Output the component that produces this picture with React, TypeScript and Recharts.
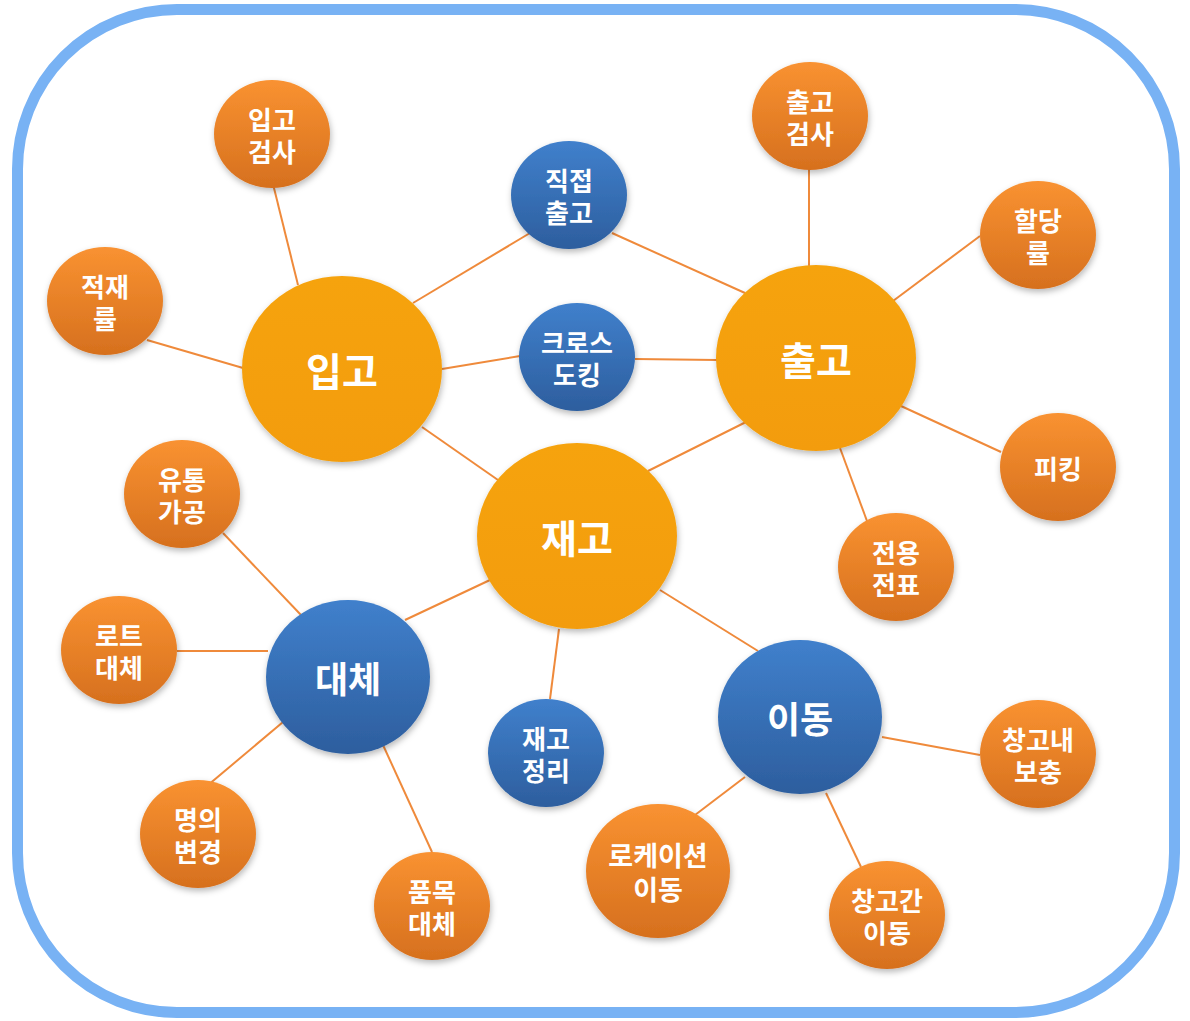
import React from "react";
import { ScatterChart, Scatter, XAxis, YAxis } from "recharts";

const nodeLabels = [
  "입고", "출고", "재고", "대체", "이동",
  "직접\n출고", "크로스\n도킹", "재고\n정리",
  "입고\n검사", "적재\n률", "출고\n검사", "할당\n률", "피킹", "전용\n전표",
  "유통\n가공", "로트\n대체", "명의\n변경", "품목\n대체",
  "로케이션\n이동", "창고간\n이동", "창고내\n보충",
];
const nodeX = [342, 816, 577, 348, 800, 569, 577, 546, 272, 105, 810, 1038, 1058, 896, 182, 119, 198, 432, 658, 887, 1038];
const nodeY = [369, 358, 536, 677, 717, 195, 357, 753, 134, 301, 116, 235, 467, 567, 494, 650, 834, 906, 871, 915, 754];
const nodeTier = ["hub", "hub", "hub", "sub", "sub", "leaf", "leaf", "leaf", "leaf", "leaf", "leaf", "leaf", "leaf", "leaf", "leaf", "leaf", "leaf", "leaf", "wide", "leaf", "leaf"];
const nodeTone = ["gold", "gold", "gold", "blue", "blue", "blue", "blue", "blue", "orange", "orange", "orange", "orange", "orange", "orange", "orange", "orange", "orange", "orange", "orange", "orange", "orange"];

// connector segments (start/end points of each link line, hidden ends sit under the nodes)
const linkX1 = [413, 612, 442, 635, 422, 746, 272, 147, 809, 980, 1001, 867, 490, 559, 660, 223, 177, 201, 383, 882, 695, 826];
const linkY1 = [303, 233, 369, 359, 427, 422, 180, 340, 165, 236, 452, 521, 580, 629, 590, 533, 651, 791, 745, 737, 815, 793];
const linkX2 = [530, 745, 520, 717, 498, 648, 298, 243, 809, 893, 901, 840, 405, 550, 758, 301, 268, 283, 432, 980, 745, 861];
const linkY2 = [233, 293, 356, 360, 480, 471, 285, 368, 266, 301, 406, 448, 620, 699, 651, 615, 651, 722, 852, 755, 777, 867];

const nodes = nodeLabels.map((label, i) => ({
  label, x: nodeX[i], y: nodeY[i], tier: nodeTier[i], tone: nodeTone[i], idx: i,
}));

const links = linkX1.map((x1, i) => [
  { x: x1, y: linkY1[i] },
  { x: linkX2[i], y: linkY2[i] },
]);

const TIER: Record<string, { rx: number; ry: number; font: number; lh: number }> = {
  hub: { rx: 100, ry: 93, font: 39, lh: 40 },
  sub: { rx: 82, ry: 77, font: 36, lh: 38 },
  leaf: { rx: 58, ry: 54, font: 26, lh: 32 },
  wide: { rx: 72, ry: 67, font: 27, lh: 34 },
};

const NodeShape = (props: any) => {
  const { cx, cy, payload } = props;
  if (cx == null || cy == null || !payload) return <g />;
  const t = TIER[payload.tier];
  const lines = String(payload.label).split("\n");
  const gid = `g-${payload.idx}`;
  let top = "#F6A30D", bot = "#F39C08";
  if (payload.tone === "blue") { top = "#4080CC"; bot = "#2D5E9E"; }
  if (payload.tone === "orange") { top = "#F99231"; bot = "#D6701E"; }
  const n = lines.length;
  return (
    <g>
      <defs>
        <linearGradient id={gid} x1="0" y1="0" x2="0" y2="1">
          <stop offset="0" stopColor={top} />
          <stop offset="1" stopColor={bot} />
        </linearGradient>
        <filter id={`sh-${payload.idx}`} x="-30%" y="-30%" width="160%" height="160%">
          <feDropShadow dx="1" dy="3" stdDeviation="3" floodColor="#000" floodOpacity="0.28" />
        </filter>
      </defs>
      <ellipse cx={cx} cy={cy} rx={t.rx} ry={t.ry} fill={`url(#${gid})`} filter={`url(#sh-${payload.idx})`} />
      <text
        x={cx}
        y={cy}
        textAnchor="middle"
        fill="#FFFFFF"
        fontFamily="'Noto Sans CJK KR', 'Noto Sans', sans-serif"
        fontWeight={700}
        fontSize={t.font}
      >
        {lines.map((ln, i) => (
          <tspan key={i} x={cx} y={cy + (i - (n - 1) / 2) * t.lh} dominantBaseline="central">
            {ln}
          </tspan>
        ))}
      </text>
    </g>
  );
};

const NoDot = () => <g />;

export default function App() {
  return (
    <div style={{ position: "absolute", left: 0, top: 0, width: 1190, height: 1021, background: "#fff" }}>
      <div
        style={{
          position: "absolute",
          left: 12,
          top: 4,
          width: 1168,
          height: 1014,
          boxSizing: "border-box",
          border: "11px solid #78B2F4",
          borderRadius: 165,
        }}
      />
      <div style={{ position: "absolute", left: 0, top: 0 }}>
        <ScatterChart width={1190} height={1021} margin={{ top: 0, right: 0, bottom: 0, left: 0 }}>
          <XAxis type="number" dataKey="x" domain={[0, 1190]} hide />
          <YAxis type="number" dataKey="y" domain={[0, 1021]} reversed hide />
          {links.map((seg, i) => (
            <Scatter
              key={`e${i}`}
              data={seg}
              line={{ stroke: "#EF8A3B", strokeWidth: 2 }}
              shape={NoDot}
              isAnimationActive={false}
            />
          ))}
          <Scatter data={nodes} shape={NodeShape} isAnimationActive={false} />
        </ScatterChart>
      </div>
    </div>
  );
}
